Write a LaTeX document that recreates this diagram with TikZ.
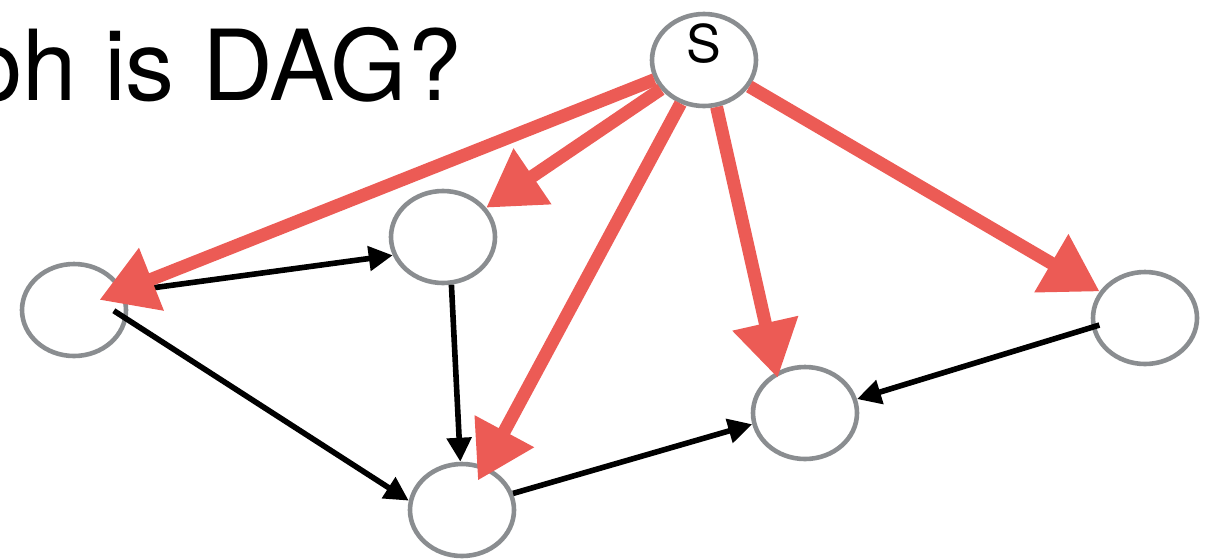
\documentclass[tikz,border=0pt]{standalone}
\usepackage{fontspec}
\setmainfont{TeX Gyre Heros}
\usetikzlibrary{arrows.meta,shapes.geometric}
\definecolor{nodegray}{HTML}{8A8D90}
\definecolor{chalkred}{HTML}{EC5B55}
\begin{document}
\begin{tikzpicture}[x=0.5pt,y=-0.5pt,
  vtx/.style={ellipse, draw=nodegray, line width=2.3pt, minimum width=52pt, minimum height=46pt, inner sep=0pt},
  edge/.style={line width=2.8pt, -{Triangle[length=12pt,width=12pt]}},
  pick/.style={chalkred, line width=6.5pt, -{Triangle[length=28pt,width=32pt]}}]
\useasboundingbox (0,0) rectangle (1214,558);
\node[anchor=base east, inner sep=0pt, font=\fontsize{49}{49}\selectfont] (title) at (462,100) {ph is DAG?};
% vertices
\node[vtx, label={[yshift=8pt, font=\fontsize{26}{26}\selectfont]center:S}] (s) at (704,60) {};
\node[vtx] (a) at (74,310) {};
\node[vtx] (b) at (443,237) {};
\node[vtx] (c) at (462,510) {};
\node[vtx] (d) at (805,413) {};
\node[vtx] (e) at (1145,318) {};
% black edges
\draw[edge](a.20) -- (b.200);
\draw[edge, shorten <=-8pt](a.-10) -- (c.170);
\draw[edge](b.-80) -- (c.92);
\draw[edge](c.18) -- (d.192);
\draw[edge, shorten <=-4pt](e.190) -- (d.15);
% red edges out of s
\draw[pick, shorten >=-13pt](s) -- (a);
\draw[pick](s) -- (b);
\draw[pick, shorten >=-8pt](s) -- (c);
\draw[pick, shorten >=-3pt](s.-75) -- (d.125);
\draw[pick](s) -- (e);
\end{tikzpicture}
\end{document}
